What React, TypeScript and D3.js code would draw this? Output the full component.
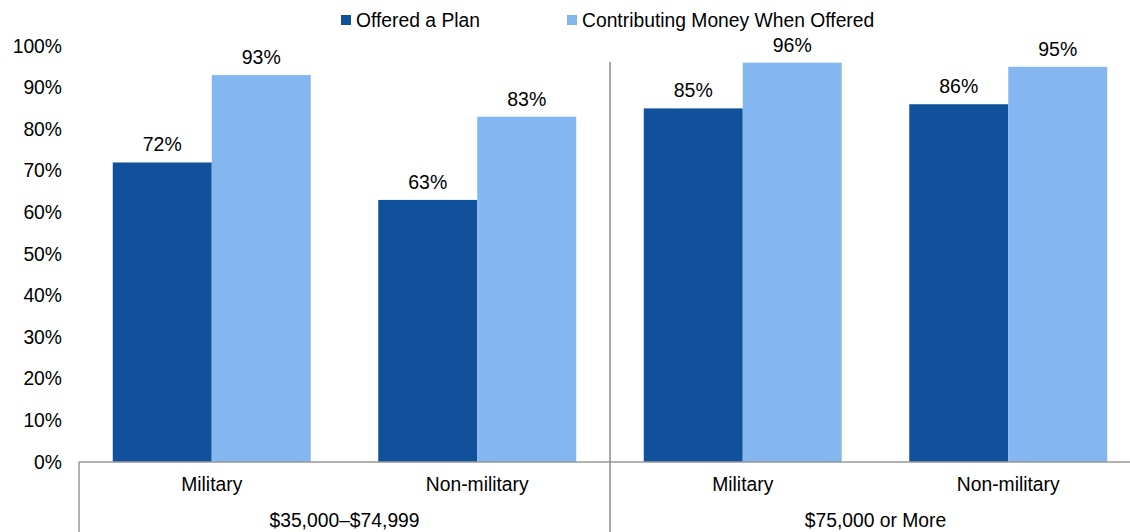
import React from "react";
import * as d3 from "d3";

const groups = ["$35,000–$74,999", "$75,000 or More"];
const categories = ["Military", "Non-military", "Military", "Non-military"];
const categoryGroup = [0, 0, 1, 1];
const seriesNames = ["Offered a Plan", "Contributing Money When Offered"];
const offered = [72, 63, 85, 86];
const contributing = [93, 83, 96, 95];
const yTicks = [0, 10, 20, 30, 40, 50, 60, 70, 80, 90, 100];

const W = 1130;
const H = 532;
const FONT = "'Liberation Sans', Arial, sans-serif";
const colors = ["#11509A", "#84B7F0"];

export default function App() {
  const left = 79;
  const step = (610 - left) / 2;
  const x = d3
    .scaleBand<number>()
    .domain(categories.map((_, i) => i))
    .range([left, left + step * 4])
    .padding(0);
  const xs = d3
    .scaleBand<number>()
    .domain([0, 1])
    .range([0, x.bandwidth()])
    .paddingInner(0)
    .paddingOuter(0.341);
  const y = d3.scaleLinear().domain([0, 100]).range([462, 46]);
  const series = [offered, contributing];
  const base = y(0);

  const groupStart = (g: number) => x(g * 2)!;
  const groupEnd = (g: number) => x(g * 2 + 1)! + x.bandwidth();

  return (
    <svg
      width={W}
      height={H}
      style={{ position: "absolute", left: 0, top: 0, background: "#fff" }}
      fontFamily={FONT}
    >
      {/* legend */}
      <g fontSize={19.3} fill="#000">
        <rect x={341} y={15} width={10} height={10} fill={colors[0]} />
        <text x={356} y={27}>{seriesNames[0]}</text>
        <rect x={567} y={15} width={10} height={10} fill={colors[1]} />
        <text x={582} y={27}>{seriesNames[1]}</text>
      </g>

      {/* y ticks */}
      <g fontSize={19.3} textAnchor="end" fill="#000">
        {yTicks.map((t) => (
          <text key={t} x={62} y={y(t)} dominantBaseline="central">
            {t}%
          </text>
        ))}
      </g>

      {/* bars */}
      {series.map((vals, s) =>
        vals.map((v, i) => (
          <rect
            key={`b${s}-${i}`}
            x={x(i)! + xs(s)!}
            y={y(v)}
            width={xs.bandwidth()}
            height={base - y(v)}
            fill={colors[s]}
          />
        ))
      )}

      {/* value labels */}
      <g fontSize={19.5} textAnchor="middle" fill="#000">
        {series.map((vals, s) =>
          vals.map((v, i) => (
            <text
              key={`l${s}-${i}`}
              x={x(i)! + xs(s)! + xs.bandwidth() / 2}
              y={y(v) - 11}
            >
              {v}%
            </text>
          ))
        )}
      </g>

      {/* axis lines */}
      <line x1={left} x2={W} y1={base} y2={base} stroke="#999" strokeWidth={1.5} />
      <line x1={left} x2={left} y1={base} y2={H} stroke="#999" strokeWidth={1.5} />
      <line x1={610} x2={610} y1={62} y2={H} stroke="#8a8a8a" strokeWidth={1.5} />

      {/* category labels */}
      <g fontSize={19.3} textAnchor="middle" fill="#000">
        {categories.map((c, i) => (
          <text key={`c${i}`} x={x(i)! + x.bandwidth() / 2} y={491}>
            {c}
          </text>
        ))}
        {groups.map((g, gi) => (
          <text key={`g${gi}`} x={(groupStart(gi) + groupEnd(gi)) / 2} y={527}>
            {g}
          </text>
        ))}
      </g>
    </svg>
  );
}
